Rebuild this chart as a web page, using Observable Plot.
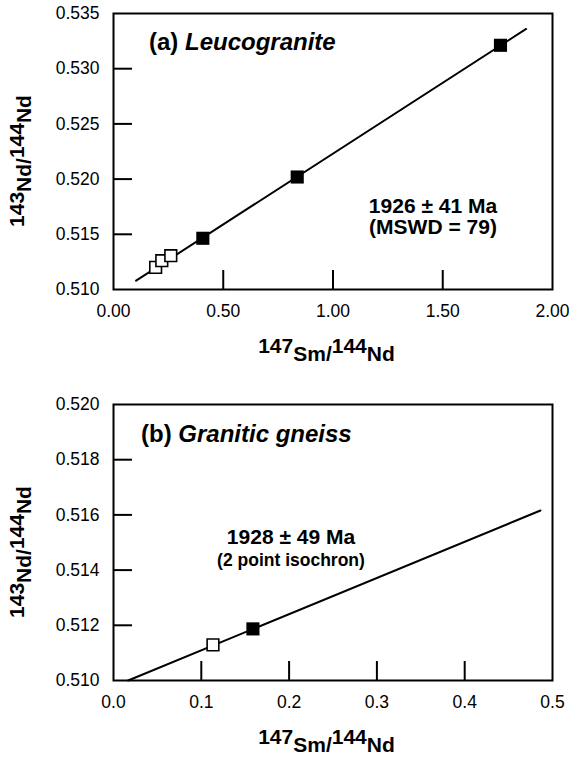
<!DOCTYPE html>
<html><head><meta charset="utf-8">
<script src="https://cdn.jsdelivr.net/npm/d3@7"></script>
<script src="https://cdn.jsdelivr.net/npm/@observablehq/plot@0.6"></script>
<style>
body{margin:0;background:#fff;font-family:"Liberation Sans",Arial,sans-serif}
svg{display:block}
</style>
</head><body><div id="a"></div><div id="b"></div>
<script>
// ---- Panel (a) Leucogranite ----
const leucoFilledX = [0.407, 0.837, 1.763];
const leucoFilledY = [0.51464, 0.52019, 0.53212];
const leucoOpenX = [0.192, 0.220, 0.261];
const leucoOpenY = [0.51200, 0.51261, 0.51306];
const leucoLineX = [0.103, 1.880];
const leucoLineY = [0.5108, 0.5336];
const leucoXTicks = [0, 0.5, 1.0, 1.5, 2.0];
const leucoYTicks = [0.510, 0.515, 0.520, 0.525, 0.530, 0.535];
const leucoTitle = ["(a) ", "Leucogranite"];
const leucoAge = ["1926 \u00b1 41 Ma", "(MSWD = 79)"];

// ---- Panel (b) Granitic gneiss ----
const gneissFilledX = [0.1588];
const gneissFilledY = [0.51187];
const gneissOpenX = [0.1133];
const gneissOpenY = [0.51129];
const gneissLineX = [0.0167, 0.4863];
const gneissLineY = [0.5100, 0.51616];
const gneissXTicks = [0.0, 0.1, 0.2, 0.3, 0.4, 0.5];
const gneissYTicks = [0.510, 0.512, 0.514, 0.516, 0.518, 0.520];
const gneissTitle = ["(b) ", "Granitic gneiss"];
const gneissAge = ["1928 \u00b1 49 Ma", "(2 point isochron)"];

const FONT = '"Liberation Sans", Arial, sans-serif';
const zip = (xs, ys) => xs.map((x, i) => ({x, y: ys[i]}));

function panel(o) {
  const plotW = 569 - 113 - 17;
  const plotH = o.height - o.marginTop - o.marginBottom;
  const svg = Plot.plot({
    width: 569, height: o.height,
    marginLeft: 113, marginRight: 17, marginTop: o.marginTop, marginBottom: o.marginBottom,
    style: {fontFamily: FONT, fontSize: "17.5px", color: "black", background: "white", overflow: "visible"},
    x: {domain: [o.xTicks[0], o.xTicks[o.xTicks.length - 1]], label: null},
    y: {domain: [o.yTicks[0], o.yTicks[o.yTicks.length - 1]], label: null},
    marks: [
      Plot.axisX(o.xTicks, {tickSize: 0, tickPadding: 15, tickFormat: d3.format(o.xFmt), label: null, fontSize: 17.5}),
      Plot.axisY(o.yTicks, {tickSize: 0, tickPadding: 14, tickFormat: d3.format(o.yFmt), label: null, fontSize: 17.5}),
      Plot.tickX(o.xTicks.slice(1, -1), {x: d => d, insetTop: plotH - 19, strokeWidth: 2}),
      Plot.tickY(o.yTicks.slice(1, -1), {y: d => d, insetRight: plotW - 19, strokeWidth: 2}),
      Plot.line(zip(o.lineX, o.lineY), {x: "x", y: "y", stroke: "black", strokeWidth: 2}),
      Plot.dot(zip(o.openX, o.openY), {x: "x", y: "y", symbol: "square", r: 6.6, fill: "white", stroke: "black", strokeWidth: 1.6}),
      Plot.dot(zip(o.filledX, o.filledY), {x: "x", y: "y", symbol: "square", r: 7.4, fill: "black", stroke: "none"}),
      Plot.frame({stroke: "black", strokeWidth: 2})
    ]
  });
  const s = d3.select(svg);
  const fl = 113, ft = o.marginTop, fb = o.height - o.marginBottom, fr = 569 - 17;
  // y-axis title 143Nd/144Nd
  const yt = s.append("text")
    .attr("transform", `translate(24,${(ft + fb) / 2 + 10}) rotate(-90)`)
    .attr("text-anchor", "middle")
    .style("font-family", FONT).style("font-size", "21px").style("font-weight", "bold");
  yt.append("tspan").text("143");
  yt.append("tspan").attr("dy", 7).text("Nd/");
  yt.append("tspan").attr("dy", -7).text("144");
  yt.append("tspan").attr("dy", 7).text("Nd");
  // x-axis title 147Sm/144Nd
  const xt = s.append("text")
    .attr("x", (fl + fr) / 2 - 6).attr("y", fb + 64)
    .attr("text-anchor", "middle")
    .style("font-family", FONT).style("font-size", "21px").style("font-weight", "bold");
  xt.append("tspan").text("147");
  xt.append("tspan").attr("dy", 8).text("Sm/");
  xt.append("tspan").attr("dy", -8).text("144");
  xt.append("tspan").attr("dy", 8).text("Nd");
  // panel title
  const pt = s.append("text")
    .attr("x", fl + o.titleDx).attr("y", ft + o.titleDy)
    .attr("text-anchor", "start")
    .style("font-family", FONT).style("font-size", "24px").style("font-weight", "bold");
  pt.append("tspan").text(o.title[0]);
  pt.append("tspan").style("font-style", "italic").text(o.title[1]);
  // age annotation
  s.append("text").attr("x", o.ageX).attr("y", ft + o.ageDy[0]).attr("text-anchor", "middle")
    .style("font-family", FONT).style("font-size", "21px").style("font-weight", "bold").text(o.age[0]);
  s.append("text").attr("x", o.ageX).attr("y", ft + o.ageDy[1]).attr("text-anchor", "middle")
    .style("font-family", FONT).style("font-size", o.age2Size).style("font-weight", "bold").text(o.age[1]);
  return svg;
}

document.getElementById("a").append(panel({
  height: 380, marginTop: 13, marginBottom: 91,
  xTicks: leucoXTicks, yTicks: leucoYTicks, xFmt: ".2f", yFmt: ".3f",
  filledX: leucoFilledX, filledY: leucoFilledY, openX: leucoOpenX, openY: leucoOpenY,
  lineX: leucoLineX, lineY: leucoLineY,
  title: leucoTitle, titleDx: 36, titleDy: 37,
  age: leucoAge, ageX: 433, ageDy: [199.5, 221], age2Size: "21px"
}));
document.getElementById("b").append(panel({
  height: 377, marginTop: 24, marginBottom: 77,
  xTicks: gneissXTicks, yTicks: gneissYTicks, xFmt: ".1f", yFmt: ".3f",
  filledX: gneissFilledX, filledY: gneissFilledY, openX: gneissOpenX, openY: gneissOpenY,
  lineX: gneissLineX, lineY: gneissLineY,
  title: gneissTitle, titleDx: 28, titleDy: 38,
  age: gneissAge, ageX: 291, ageDy: [139.5, 162], age2Size: "17.5px"
}));
</script>
</body></html>
